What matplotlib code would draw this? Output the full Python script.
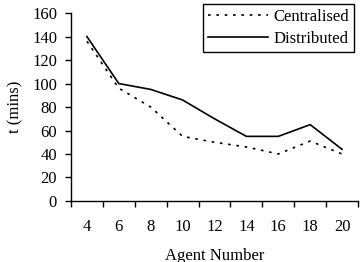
import matplotlib
matplotlib.use('Agg')
import matplotlib.pyplot as plt

agents = [4, 6, 8, 10, 12, 14, 16, 18, 20]
centralised = [136, 96, 80, 55, 50, 46, 40, 51, 40]
distributed = [140, 100, 95, 86, 70, 55, 55, 65, 44]

plt.rcParams['font.family'] = ['Liberation Serif', 'DejaVu Serif']
plt.rcParams['font.size'] = 12

fig = plt.figure(figsize=(3.62, 2.62), dpi=100)
ax = fig.add_axes([0.196, 0.233, 0.793, 0.717])

pos = list(range(len(agents)))
ax.plot(pos, centralised, color='black', lw=1.2, linestyle=(0, (1.6, 3.4)), label='Centralised')
ax.plot(pos, distributed, color='black', lw=1.2, label='Distributed')

ax.set_xlim(-0.5, len(agents) - 0.5)
ax.set_ylim(0, 160)
ax.set_yticks(range(0, 161, 20))
# tick marks sit between categories, labels in the middle
ax.set_xticks([p - 0.5 for p in range(len(agents) + 1)])
ax.set_xticklabels([])
ax.set_xticks(pos, minor=True)
ax.set_xticklabels([str(a) for a in agents], minor=True)
ax.tick_params(axis='x', which='major', length=4, width=1, direction='out')
ax.tick_params(axis='x', which='minor', length=0, pad=13)
ax.tick_params(axis='y', length=4, width=1, direction='out', pad=6)

for s in ['top', 'right']:
    ax.spines[s].set_visible(False)
for s in ['left', 'bottom']:
    ax.spines[s].set_linewidth(1)

ax.set_xlabel('Agent Number', labelpad=9)
ax.set_ylabel('t (mins)', labelpad=6)

leg = fig.legend(loc='upper right', bbox_to_anchor=(0.978, 0.985), handlelength=3.6,
                 fancybox=False, edgecolor='black', framealpha=1, borderpad=0.3,
                 labelspacing=0.35, handletextpad=0.3, borderaxespad=0)
leg.get_frame().set_linewidth(1)

fig.savefig('out.png', dpi=100)
